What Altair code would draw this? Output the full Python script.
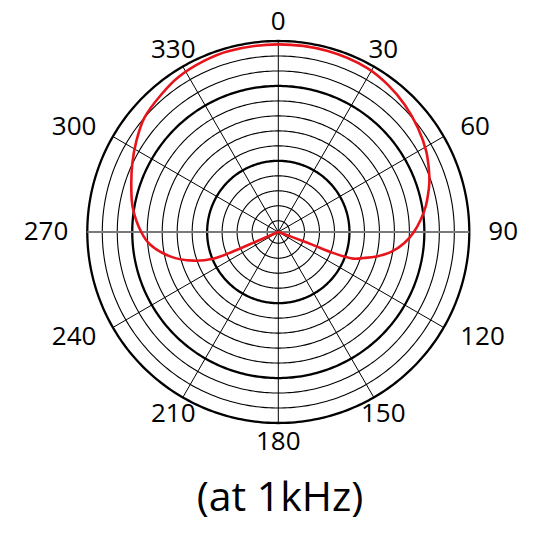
import altair as alt
import pandas as pd

# ---- grid (dB) ----
FLOOR = -25.5          # level at the centre of the plot
ring_db = [-24, -22, -20, -18, -16, -14, -12, -10, -8, -6, -4, -2, 0]
bold_db = [-16, -6, 0]
spoke_deg = [0, 30, 60, 90, 120, 150]
label_deg = [0, 30, 60, 90, 120, 150, 180, 210, 240, 270, 300, 330]
label_txt = [str(a) for a in label_deg]

# ---- response at 1 kHz (angle in degrees, level in dB) ----
resp_deg = [247, 246.7, 246.8, 247.7, 251.4, 257.3, 264.4, 270, 279.5, 286.8,
            294.9, 302.6, 310.5, 319.6, 327, 336.7, 344.5, 0, 15, 28.5,
            36.7, 44.8, 53.3, 61.4, 68, 72, 76, 80, 85, 90,
            95, 100, 104, 107, 109.6, 110.9, 110.5, 110, 111]
resp_db = [-26, -22.4, -19.0, -16.1, -13.5, -10.7, -8.3, -7.2, -5.8, -5.0,
           -4.0, -3.0, -2.0, -1.4, -0.9, -0.6, -0.45, -0.45, -0.45, -0.6,
           -1.0, -1.55, -2.25, -3.0, -3.8, -4.3, -4.9, -5.5, -6.4, -7.4,
           -8.6, -10.2, -12.0, -13.6, -14.9, -17.6, -20.6, -23.4, -26]

OUTER = 0 - FLOOR
PX = 191.0 / OUTER          # pixels per dB
W, H = 524, 450
CX, CY = 270.3, 222.0       # centre inside the view
LABEL_R = 210.0 / PX

ring_df = pd.DataFrame({"db": ring_db})
spoke_df = pd.DataFrame({"deg": spoke_deg})
label_df = pd.DataFrame({"deg": label_deg, "txt": label_txt})
resp_df = pd.DataFrame({"i": list(range(len(resp_deg))), "deg": resp_deg, "db": resp_db})

xs = alt.Scale(domain=[-CX / PX, (W - CX) / PX], nice=False, zero=False)
ys = alt.Scale(domain=[-(H - CY) / PX, CY / PX], nice=False, zero=False)

bold_expr = "indexof([" + ",".join(str(b) for b in bold_db) + "], datum.db) >= 0"

def ring_layer(bold):
    base = alt.Chart(ring_df).transform_filter(
        bold_expr if bold else f"!({bold_expr})"
    ).transform_calculate(
        rr=f"datum.db - ({FLOOR})", a="sequence(0, 361, 1)"
    ).transform_flatten(["a"]).transform_calculate(
        gx="datum.rr * sin(datum.a * PI / 180)",
        gy="datum.rr * cos(datum.a * PI / 180)",
    )
    return base.mark_line(color="black", strokeWidth=2.3 if bold else 1.1,
                          strokeJoin="round").encode(
        x=alt.X("gx:Q", scale=xs, axis=None),
        y=alt.Y("gy:Q", scale=ys, axis=None),
        detail="db:N",
        order="a:Q",
    )

spokes = alt.Chart(spoke_df).transform_calculate(
    t="datum.deg * PI / 180",
).transform_calculate(
    xa=f"{OUTER} * sin(datum.t)", ya=f"{OUTER} * cos(datum.t)",
    xb=f"-{OUTER} * sin(datum.t)", yb=f"-{OUTER} * cos(datum.t)",
).mark_rule().encode(
    x=alt.X("xa:Q", scale=xs, axis=None),
    y=alt.Y("ya:Q", scale=ys, axis=None),
    x2="xb:Q", y2="yb:Q",
    color=alt.condition("datum.deg == 90", alt.value("#7a7a7a"), alt.value("black")),
    strokeWidth=alt.condition("datum.deg == 90", alt.value(2.2), alt.value(1.0)),
)

curve = alt.Chart(resp_df).transform_calculate(
    rr=f"max(datum.db - ({FLOOR}), 0)", t="datum.deg * PI / 180",
).transform_calculate(
    px="datum.rr * sin(datum.t)", py="datum.rr * cos(datum.t)",
).mark_line(color="#e8141c", strokeWidth=2.6, interpolate="catmull-rom",
            strokeCap="round", strokeJoin="round").encode(
    x=alt.X("px:Q", scale=xs, axis=None),
    y=alt.Y("py:Q", scale=ys, axis=None),
    order="i:Q",
)

def label_layer(cond, align):
    return alt.Chart(label_df).transform_calculate(
        t="datum.deg * PI / 180",
    ).transform_calculate(
        lx=f"{LABEL_R} * sin(datum.t)", ly=f"{LABEL_R} * cos(datum.t)",
    ).transform_filter(cond).mark_text(
        font="Open Sans", fontSize=26, color="black", align=align, baseline="middle"
    ).encode(
        x=alt.X("lx:Q", scale=xs, axis=None),
        y=alt.Y("ly:Q", scale=ys, axis=None),
        text="txt:N",
    )

labels_c = label_layer("abs(sin(datum.t)) <= 0.6", "center")
labels_l = label_layer("sin(datum.t) > 0.6", "left")
labels_r = label_layer("sin(datum.t) < -0.6", "right")

chart = alt.layer(
    ring_layer(False), ring_layer(True), spokes, curve, labels_c, labels_l, labels_r
).properties(
    width=W, height=H, padding=0,
    autosize=alt.AutoSizeParams(type="pad"),
    title=alt.TitleParams(text="(at 1kHz)", orient="bottom", anchor="middle",
                          font="Open Sans", fontSize=41, fontWeight="normal",
                          color="black", offset=19, dx=10),
).configure_view(stroke=None)

chart.save("out.html", embed_options={"renderer": "svg", "actions": False})
